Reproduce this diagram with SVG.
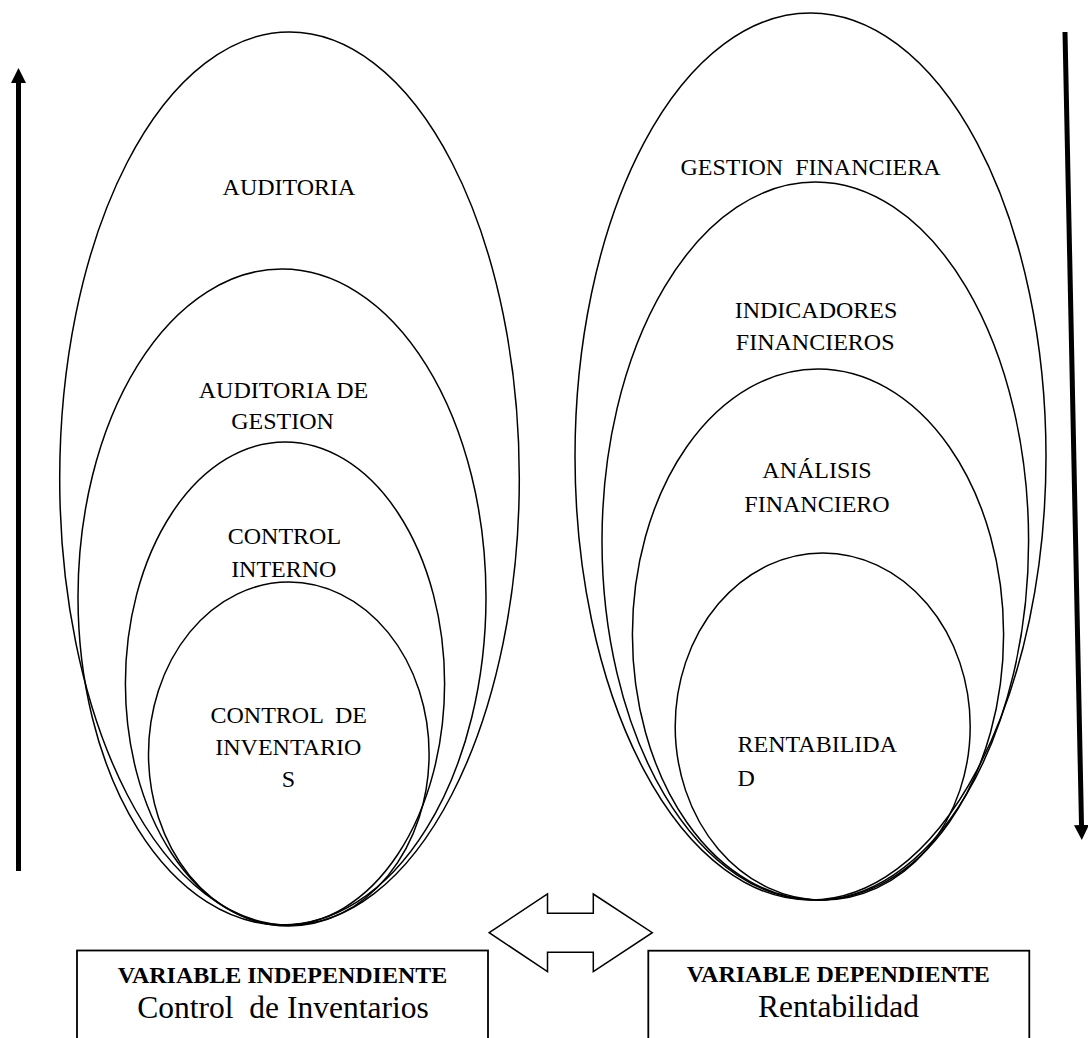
<svg xmlns="http://www.w3.org/2000/svg" width="1088" height="1038" viewBox="0 0 1088 1038">
<style>
.el{fill:none;stroke:#000;stroke-width:1.5}
.t{font-family:"Liberation Serif","Times New Roman",serif;font-size:24px;fill:#000;text-anchor:middle;white-space:pre}
.tl{text-anchor:start}
.hb{font-weight:bold}
.big{font-size:31.5px}
.box{fill:#fff;stroke:#000;stroke-width:1.8}
.shaft{stroke:#000;stroke-width:5;fill:none}
.dbl{fill:#fff;stroke:#000;stroke-width:1.5;stroke-linejoin:miter}
</style>
<defs>
<marker id="head" markerUnits="userSpaceOnUse" markerWidth="16" markerHeight="16" refX="0" refY="7.5" orient="auto" viewBox="0 0 16 16">
<path d="M0,0 L15,7.5 L0,15 z" fill="#000"/>
</marker>
</defs>
<rect width="1088" height="1038" fill="#fff"/>

<g id="left-nodes">
<g id="auditoria">
<ellipse class="el" cx="289.5" cy="478.5" rx="229.8" ry="446.5"/>
<text class="t" x="289" y="195">AUDITORIA</text>
</g>
<g id="auditoria-gestion">
<ellipse class="el" cx="282" cy="597" rx="204" ry="328"/>
<text class="t" x="283.5" y="398">AUDITORIA DE</text>
<text class="t" x="282.5" y="429">GESTION</text>
</g>
<g id="control-interno">
<ellipse class="el" cx="285" cy="683.5" rx="159.6" ry="241.5"/>
<text class="t" x="284.4" y="544">CONTROL</text>
<text class="t" x="283.8" y="577">INTERNO</text>
</g>
<g id="control-inventarios">
<ellipse class="el" cx="288.8" cy="754" rx="140.3" ry="172"/>
<text class="t" x="288.7" y="723" xml:space="preserve">CONTROL  DE</text>
<text class="t" x="288.3" y="755">INVENTARIO</text>
<text class="t" x="288.5" y="787">S</text>
</g>
</g>

<g id="right-nodes">
<g id="gestion-financiera">
<ellipse class="el" cx="810.5" cy="456.5" rx="235.5" ry="443.5"/>
<text class="t" x="810.5" y="175" xml:space="preserve">GESTION  FINANCIERA</text>
</g>
<g id="indicadores-financieros">
<ellipse class="el" cx="815.3" cy="541" rx="213.3" ry="359"/>
<text class="t" x="816" y="318">INDICADORES</text>
<text class="t" x="815.2" y="350">FINANCIEROS</text>
</g>
<g id="analisis-financiero">
<ellipse class="el" cx="818" cy="634.5" rx="185.6" ry="265.5"/>
<text class="t" x="817" y="478">ANÁLISIS</text>
<text class="t" x="817" y="512">FINANCIERO</text>
</g>
<g id="rentabilidad">
<ellipse class="el" cx="822.7" cy="726.5" rx="147.5" ry="173.5"/>
<text class="t tl" x="737.6" y="752">RENTABILIDA</text>
<text class="t tl" x="737.6" y="786">D</text>
</g>
</g>

<g id="var-independiente">
<rect class="box" x="77" y="950.5" width="411" height="110"/>
<text class="t hb" x="282.5" y="983">VARIABLE INDEPENDIENTE</text>
<text class="t big" x="283" y="1018" xml:space="preserve">Control  de Inventarios</text>
</g>
<g id="var-dependiente">
<rect class="box" x="648.3" y="950.7" width="381" height="110"/>
<text class="t hb" x="838.3" y="982">VARIABLE DEPENDIENTE</text>
<text class="t big" x="838.5" y="1017">Rentabilidad</text>
</g>

<g id="connectors">
<line class="shaft" x1="18.5" y1="871" x2="18.5" y2="83" marker-end="url(#head)"/>
<line class="shaft" x1="1065" y1="32" x2="1081.5" y2="825" marker-end="url(#head)"/>
<polygon class="dbl" points="489.2,932.7 547.5,894 547.5,913.3 593.3,913.3 593.3,894 652.3,932.7 593.3,971.7 593.3,952.3 547.5,952.3 547.5,971.7"/>
</g>
</svg>
